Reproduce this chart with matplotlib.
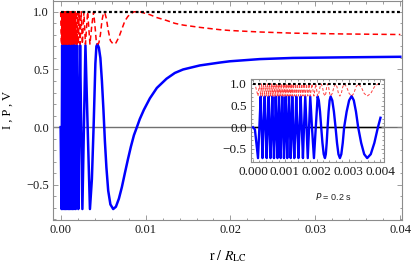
import matplotlib
matplotlib.use("Agg")
import matplotlib.pyplot as plt
from matplotlib.ticker import MultipleLocator, FuncFormatter

# ---- main panel: r / R_LC ----
main_r = [0, 0.0001, 0.00014, 0.00018, 0.00022, 0.00026, 0.0003, 0.00034, 0.00038, 0.00042,
          0.00046, 0.0005, 0.00054, 0.00058, 0.00062, 0.00066, 0.0007, 0.00074, 0.00078, 0.00082,
          0.00086, 0.0009, 0.00094, 0.00098, 0.00102, 0.00106, 0.0011, 0.00114, 0.00118, 0.00122,
          0.00126, 0.0013, 0.00134, 0.00138, 0.00142, 0.00146, 0.00151, 0.00156, 0.00161, 0.00166,
          0.00172, 0.00178, 0.00185, 0.00192, 0.002, 0.00208, 0.00218, 0.00229, 0.00242, 0.00256,
          0.00274, 0.00292, 0.00318, 0.00345, 0.00368, 0.00388, 0.00409, 0.00421, 0.00433, 0.0045,
          0.00468, 0.00486, 0.00504, 0.00521, 0.00539, 0.0056, 0.00586, 0.00619, 0.00651, 0.00686,
          0.00721, 0.00756, 0.00792, 0.00827, 0.00863, 0.00898, 0.00932, 0.0098, 0.01051, 0.01133,
          0.01247, 0.01345, 0.01442, 0.01639, 0.01874, 0.01992, 0.02345, 0.02733, 0.03321, 0.04]
main_v = [0, -0.71, 0, 0.71, 0, -0.71, 0, 0.71, 0, -0.71,
          0, 0.71, 0, -0.71, 0, 0.71, 0, -0.71, 0, 0.71,
          0, -0.71, 0, 0.71, 0, -0.71, 0, 0.71, 0, -0.71,
          0, 0.71, 0, -0.71, 0, 0.71, 0, -0.71, 0, 0.71,
          0, -0.71, 0, 0.71, 0, -0.71, 0, 0.71, 0, -0.71,
          0, 0.71, 0, -0.71, -0.45, 0, 0.55, 0.7, 0.72, 0.69,
          0.6, 0.4, 0.15, -0.12, -0.35, -0.55, -0.67, -0.71, -0.69, -0.62,
          -0.52, -0.4, -0.28, -0.17, -0.07, 0, 0.07, 0.15, 0.25, 0.34,
          0.42, 0.47, 0.5, 0.535, 0.56, 0.571, 0.59, 0.6, 0.605, 0.61]
main_p = [1, 0.72, 1, 0.72, 1, 0.72, 1, 0.72, 1, 0.72,
          1, 0.72, 1, 0.72, 1, 0.72, 1, 0.72, 1, 0.72,
          1, 0.72, 1, 0.72, 1, 0.72, 1, 0.72, 1, 0.72,
          1, 0.72, 1, 0.72, 1, 0.72, 1, 0.72, 1, 0.72,
          1, 0.72, 1, 0.72, 1, 0.72, 1, 0.72, 1, 0.72,
          1, 0.72, 1, 0.72, 0.89, 1, 0.84, 0.73, 0.72, 0.73,
          0.8, 0.92, 0.99, 0.99, 0.94, 0.84, 0.75, 0.72, 0.73, 0.78,
          0.85, 0.92, 0.96, 0.985, 1, 1, 1, 0.99, 0.975, 0.95,
          0.925, 0.9, 0.885, 0.865, 0.845, 0.838, 0.825, 0.815, 0.808, 0.803]
main_i_r = [0, 0.04]
main_i = [1, 1]

# ---- inset: P = 0.2 s ----
ins_r = [0, 0.00006, 0.000157, 0.0002, 0.000241, 0.00027, 0.000298, 0.00033, 0.000367, 0.0004,
         0.000429, 0.00046, 0.000492, 0.00052, 0.000549, 0.00058, 0.000605, 0.00063, 0.000658, 0.00069,
         0.000712, 0.00074, 0.000768, 0.00079, 0.000815, 0.00084, 0.000868, 0.00089, 0.000918, 0.00095,
         0.000972, 0.001, 0.001025, 0.00105, 0.001075, 0.0011, 0.001129, 0.00116, 0.001182, 0.00121,
         0.001232, 0.00126, 0.001295, 0.00133, 0.001357, 0.00139, 0.001426, 0.00146, 0.001495, 0.00153,
         0.001567, 0.0016, 0.001639, 0.00168, 0.001718, 0.00176, 0.001796, 0.00185, 0.001912, 0.00197,
         0.002028, 0.002065, 0.002103, 0.00214, 0.002179, 0.002218, 0.002257, 0.002285, 0.002312, 0.00234,
         0.002372, 0.002404, 0.002436, 0.002487, 0.002539, 0.00259, 0.002636, 0.002681, 0.002727, 0.002771,
         0.002816, 0.00286, 0.002938, 0.003016, 0.003094, 0.003163, 0.003231, 0.0033, 0.003394, 0.003489,
         0.003583, 0.003695, 0.003808, 0.00392, 0.004]
ins_v = [0, -0.05, -0.71, 0, 0.71, 0, -0.71, 0, 0.71, 0,
         -0.71, 0, 0.71, 0, -0.71, 0, 0.71, 0, -0.71, 0,
         0.71, 0, -0.71, 0, 0.71, 0, -0.71, 0, 0.71, 0,
         -0.71, 0, 0.71, 0, -0.71, 0, 0.71, 0, -0.71, 0,
         0.71, 0, -0.71, 0, 0.71, 0, -0.71, 0, 0.71, 0,
         -0.71, 0, 0.71, 0, -0.71, 0, 0.71, 0, -0.71, 0,
         0.71, 0.62, 0.36, 0, -0.36, -0.62, -0.71, -0.62, -0.36, 0,
         0.36, 0.62, 0.71, 0.62, 0.36, 0, -0.36, -0.62, -0.71, -0.62,
         -0.36, 0, 0.36, 0.62, 0.72, 0.62, 0.36, 0, -0.36, -0.62,
         -0.71, -0.62, -0.36, 0, 0.22]
ins_p = [1, 1, 0.72, 1, 0.72, 1, 0.72, 1, 0.72, 1,
         0.72, 1, 0.72, 1, 0.72, 1, 0.72, 1, 0.72, 1,
         0.72, 1, 0.72, 1, 0.72, 1, 0.72, 1, 0.72, 1,
         0.72, 1, 0.72, 1, 0.72, 1, 0.72, 1, 0.72, 1,
         0.72, 1, 0.72, 1, 0.72, 1, 0.72, 1, 0.72, 1,
         0.72, 1, 0.72, 1, 0.72, 1, 0.72, 1, 0.72, 1,
         0.72, 0.78, 0.93, 1, 0.93, 0.78, 0.72, 0.78, 0.93, 1,
         0.93, 0.78, 0.72, 0.78, 0.93, 1, 0.93, 0.78, 0.72, 0.78,
         0.93, 1, 0.93, 0.78, 0.72, 0.78, 0.93, 1, 0.93, 0.78,
         0.72, 0.78, 0.93, 1, 0.975]
ins_i_r = [0, 0.004]
ins_i = [1, 1]

serif = 'Liberation Serif'
frame_col = '#8c8c8c'
minus = FuncFormatter(lambda v, pos: ('%.1f' % v).replace('-', '\u2212'))


def style_frame(ax, xmaj, xmin, xfmt, size):
	for s in ax.spines.values():
		s.set_color(frame_col)
		s.set_linewidth(0.8)
	ax.xaxis.set_major_locator(MultipleLocator(xmaj))
	ax.xaxis.set_minor_locator(MultipleLocator(xmin))
	ax.yaxis.set_major_locator(MultipleLocator(0.5))
	ax.yaxis.set_minor_locator(MultipleLocator(0.1))
	ax.xaxis.set_major_formatter(FuncFormatter(lambda v, pos: xfmt % v))
	ax.yaxis.set_major_formatter(minus)
	ax.tick_params(which='both', direction='in', top=True, right=True,
		color=frame_col, width=0.6, labelsize=size, labelcolor='#1a1a1a', pad=3)
	ax.tick_params(which='major', length=3.5)
	ax.tick_params(which='minor', length=1.8)
	for lab in ax.get_xticklabels() + ax.get_yticklabels():
		lab.set_fontfamily(serif)


fig = plt.figure(figsize=(4.15, 2.67), dpi=100)
ax = fig.add_axes([53 / 415, 47 / 267, 349 / 415, 219.5 / 267])
ax.axhline(0, color='#707070', lw=1.0, zorder=1)
ax.plot(main_r, main_v, color='#0000ff', lw=1.8, zorder=3)
ax.plot(main_r, main_p, color='#ff0000', lw=1.1, ls=(0, (3.5, 2.2)), zorder=4)
ax.plot(main_i_r, main_i, color='black', lw=1.6, ls=(0, (1.3, 1.1)), zorder=5)
ax.set_xlim(-0.0009, 0.0402)
ax.set_ylim(-0.805, 1.098)
style_frame(ax, 0.01, 0.002, '%.2f', 9)
ax.set_xlabel(r'$\mathrm{r}\ /\ R_{\mathrm{LC}}$', fontsize=10, math_fontfamily='stix', labelpad=9)
ax.set_ylabel('I , P , V', fontsize=9, family=serif, labelpad=9)

ins = fig.add_axes([251 / 415, 105 / 267, 133.3 / 415, 83 / 267])
ins.set_facecolor('none')
ins.axhline(0, color='black', lw=1.0, zorder=1)
ins.plot(ins_r, ins_v, color='#0000ff', lw=1.7, zorder=3)
ins.plot(ins_r, ins_p, color='#ff4040', lw=0.7, ls=(0, (3, 2)), zorder=4)
ins.plot(ins_i_r, ins_i, color='black', lw=1.5, ls=(0, (1.3, 1.1)), zorder=5)
ins.set_xlim(-0.000063, 0.00412)
ins.set_ylim(-0.80, 1.113)
style_frame(ins, 0.001, 0.0002, '%.3f', 9.5)
ins.tick_params(which='major', length=2.5)
ins.tick_params(which='minor', length=1.3)

fig.text(315 / 415, 1 - 196.7 / 267, '$P$ = 0.2 s', fontsize=6.5, family='Liberation Sans',
	math_fontfamily='dejavusans', va='center', ha='left', color='#222222')

fig.savefig('out.png', dpi=100)
